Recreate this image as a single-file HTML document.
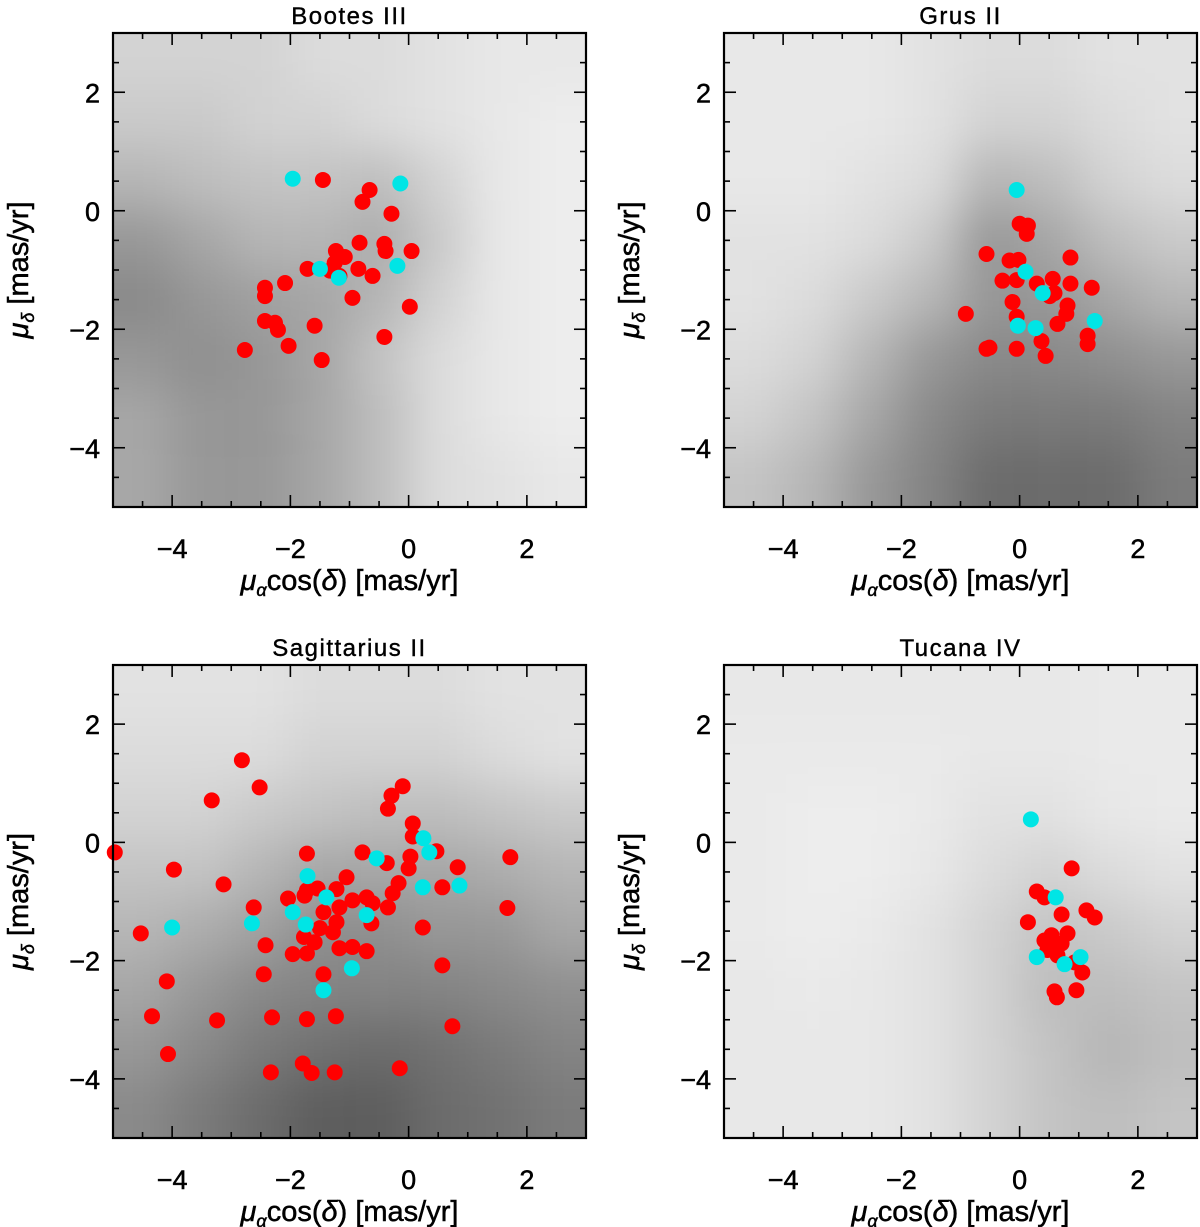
<!DOCTYPE html>
<html><head><meta charset="utf-8">
<style>
html,body{margin:0;padding:0;background:#fff;}
svg{display:block;font-family:"Liberation Sans",sans-serif;}
</style></head>
<body>
<svg id="fig" width="1200" height="1227" viewBox="0 0 1200 1227" xmlns="http://www.w3.org/2000/svg">
<defs>
<filter id="blur" x="-20%" y="-20%" width="140%" height="140%"><feGaussianBlur stdDeviation="22"/></filter>
</defs>
</svg>
<script>
// ---- Data ----
const panelTitles = ["Bootes III","Grus II","Sagittarius II","Tucana IV"];
const xTickLabels = [-4,-2,0,2];
const yTickLabels = [2,0,-2,-4];

// background field-star density (rows: mu_delta 3..-5, cols: mu_alpha -5..3)
const densBootes = [
[0.15,0.15,0.15,0.12,0.12,0.10,0.08,0.08],
[0.18,0.18,0.15,0.15,0.12,0.10,0.08,0.06],
[0.25,0.22,0.20,0.20,0.22,0.15,0.08,0.06],
[0.35,0.30,0.25,0.25,0.28,0.18,0.08,0.06],
[0.40,0.35,0.32,0.30,0.25,0.15,0.08,0.06],
[0.35,0.38,0.35,0.30,0.20,0.12,0.08,0.06],
[0.30,0.35,0.35,0.30,0.22,0.12,0.08,0.06],
[0.30,0.35,0.35,0.30,0.22,0.12,0.10,0.08]];
const densGrus = [
[0.08,0.08,0.08,0.10,0.12,0.12,0.10,0.10],
[0.08,0.08,0.08,0.10,0.15,0.15,0.12,0.10],
[0.08,0.08,0.10,0.12,0.25,0.22,0.15,0.12],
[0.10,0.10,0.12,0.18,0.35,0.30,0.22,0.18],
[0.10,0.12,0.18,0.25,0.35,0.35,0.30,0.25],
[0.12,0.15,0.25,0.35,0.40,0.40,0.38,0.35],
[0.15,0.20,0.30,0.40,0.45,0.45,0.45,0.42],
[0.20,0.25,0.35,0.42,0.50,0.50,0.50,0.45]];
const densSgr = [
[0.10,0.10,0.10,0.12,0.12,0.12,0.10,0.10],
[0.12,0.12,0.12,0.15,0.15,0.15,0.12,0.10],
[0.15,0.15,0.18,0.20,0.22,0.22,0.20,0.18],
[0.20,0.20,0.25,0.30,0.30,0.30,0.28,0.25],
[0.25,0.28,0.32,0.38,0.38,0.35,0.35,0.30],
[0.30,0.35,0.40,0.42,0.42,0.42,0.40,0.38],
[0.35,0.40,0.45,0.48,0.50,0.48,0.45,0.42],
[0.40,0.45,0.50,0.55,0.55,0.50,0.48,0.45]];
const densTuc = [
[0.08,0.08,0.08,0.08,0.08,0.08,0.07,0.07],
[0.07,0.07,0.07,0.07,0.08,0.08,0.07,0.07],
[0.07,0.06,0.06,0.07,0.10,0.10,0.08,0.07],
[0.07,0.06,0.06,0.08,0.12,0.15,0.12,0.10],
[0.07,0.06,0.07,0.10,0.15,0.20,0.18,0.15],
[0.08,0.07,0.08,0.10,0.15,0.22,0.22,0.20],
[0.08,0.08,0.08,0.10,0.15,0.20,0.25,0.22],
[0.08,0.08,0.08,0.10,0.15,0.20,0.22,0.20]];

// members: [pmra, pmdec]
const redBootes = [[-1.45,0.52],[-0.66,0.35],[-0.78,0.15],[-0.29,-0.05],[-0.83,-0.54],[-0.41,-0.56],[-0.39,-0.68],[0.05,-0.68],[-1.23,-0.68],[-1.08,-0.78],[-1.25,-0.88],[-1.71,-0.98],[-0.85,-0.98],[-0.61,-1.10],[-1.33,-1.01],[-1.17,-1.10],[-2.09,-1.22],[-2.43,-1.30],[-2.43,-1.44],[-0.95,-1.47],[0.02,-1.62],[-2.43,-1.86],[-2.26,-1.89],[-2.21,-2.01],[-1.59,-1.94],[-0.41,-2.13],[-2.03,-2.28],[-2.77,-2.35],[-1.47,-2.52]];
const cyanBootes = [[-1.96,0.54],[-0.14,0.46],[-1.50,-0.98],[-1.18,-1.13],[-0.19,-0.93]];
const redGrus = [[0.00,-0.22],[0.14,-0.25],[0.12,-0.39],[-0.56,-0.73],[0.86,-0.79],[-0.17,-0.84],[-0.02,-0.83],[-0.29,-1.18],[-0.05,-1.17],[0.29,-1.23],[0.56,-1.15],[0.86,-1.23],[1.22,-1.30],[0.51,-1.44],[0.59,-1.39],[-0.12,-1.54],[0.81,-1.60],[0.79,-1.74],[-0.91,-1.74],[-0.05,-1.79],[0.64,-1.91],[1.15,-2.11],[1.15,-2.25],[0.37,-2.20],[-0.51,-2.31],[-0.56,-2.33],[-0.05,-2.33],[0.44,-2.45]];
const cyanGrus = [[-0.05,0.35],[0.10,-1.03],[0.39,-1.39],[-0.03,-1.94],[0.27,-1.98],[1.27,-1.86]];
const redSgr = [[-2.82,1.39],[-2.52,0.93],[-3.33,0.71],[-0.10,0.95],[-0.29,0.79],[-0.35,0.57],[-4.97,-0.17],[-3.97,-0.46],[-3.13,-0.71],[-1.72,-0.19],[-0.78,-0.17],[0.07,0.32],[0.07,0.10],[0.47,-0.15],[-0.37,-0.35],[0.03,-0.24],[0.00,-0.44],[0.83,-0.42],[0.57,-0.76],[-0.17,-0.69],[-0.27,-0.86],[-0.35,-1.10],[-1.05,-0.59],[-1.22,-0.79],[-1.54,-0.78],[-1.72,-0.81],[-2.04,-0.95],[-1.76,-0.90],[-1.17,-1.10],[-0.95,-0.98],[-0.71,-0.93],[-0.61,-1.03],[-1.44,-1.18],[-1.22,-1.35],[-1.50,-1.45],[-1.28,-1.52],[-0.63,-1.37],[-2.62,-1.10],[0.24,-1.44],[-4.53,-1.54],[-1.77,-1.60],[-1.59,-1.69],[-2.42,-1.74],[-1.96,-1.89],[-1.72,-1.88],[-1.17,-1.79],[-0.95,-1.77],[-0.71,-1.84],[0.57,-2.08],[-2.45,-2.23],[-1.44,-2.23],[-4.09,-2.35],[-4.34,-2.94],[-3.24,-3.01],[-2.31,-2.96],[-1.72,-2.99],[-1.23,-2.94],[0.74,-3.11],[-4.07,-3.58],[-1.79,-3.74],[-1.64,-3.90],[-2.33,-3.89],[-1.25,-3.89],[-0.15,-3.82],[1.72,-0.25],[1.67,-1.11]];
const cyanSgr = [[0.25,0.07],[0.35,-0.17],[-0.54,-0.27],[-1.71,-0.57],[-1.39,-0.93],[-1.96,-1.18],[-1.74,-1.39],[-2.65,-1.37],[-4.00,-1.44],[-0.71,-1.23],[0.24,-0.76],[0.86,-0.73],[-0.96,-2.13],[-1.44,-2.50]];
const redTuc = [[0.88,-0.44],[0.29,-0.83],[0.42,-0.93],[1.13,-1.15],[1.27,-1.27],[0.71,-1.22],[0.14,-1.35],[0.54,-1.57],[0.81,-1.54],[0.71,-1.71],[0.47,-1.82],[0.59,-1.77],[0.93,-2.03],[1.06,-2.20],[0.59,-2.52],[0.63,-2.62],[0.96,-2.50],[0.42,-1.66],[0.64,-1.91]];
const cyanTuc = [[0.19,0.39],[0.61,-0.93],[0.29,-1.94],[0.76,-2.06],[1.03,-1.94]];

const densities = [densBootes,densGrus,densSgr,densTuc];
const reds = [redBootes,redGrus,redSgr,redTuc];
const cyans = [cyanBootes,cyanGrus,cyanSgr,cyanTuc];

// ---- Drawing ----
const NS = "http://www.w3.org/2000/svg";
const svg = document.getElementById('fig');
function mk(tag, attrs, parent){
  const e = document.createElementNS(NS, tag);
  for (const k in attrs) e.setAttribute(k, attrs[k]);
  (parent||svg).appendChild(e);
  return e;
}
const XMIN=-5, XMAX=3, YMIN=-5, YMAX=3;
const DENS_GAIN = 1.15;
const boxes = [
  {x0:113, y0:33, w:473, h:474},
  {x0:724, y0:33, w:473, h:474},
  {x0:113, y0:665, w:473, h:473},
  {x0:724, y0:665, w:473, h:473}
];
const slug = ["bootes-iii","grus-ii","sagittarius-ii","tucana-iv"];

boxes.forEach((b, p) => {
  const sx = v => b.x0 + (v - XMIN) / (XMAX - XMIN) * b.w;
  const sy = v => b.y0 + (YMAX - v) / (YMAX - YMIN) * b.h;
  const g = mk('g', {});
  
  

  const cp = mk('clipPath', {id: 'clip' + p}, svg.querySelector('defs'));
  mk('rect', {x: b.x0, y: b.y0, width: b.w, height: b.h}, cp);

  const bgWrap = mk('g', {'clip-path': 'url(#clip' + p + ')'}, g);
  
  
  const bg = mk('g', {filter: 'url(#blur)'}, bgWrap);
  const dens = densities[p];
  const nr = dens.length, nc = dens[0].length;
  for (let r = 0; r < nr; r++) for (let c = 0; c < nc; c++) {
    let xa = sx(XMIN + c * (XMAX - XMIN) / nc), xb = sx(XMIN + (c + 1) * (XMAX - XMIN) / nc);
    let ya = sy(YMAX - r * (YMAX - YMIN) / nr), yb = sy(YMAX - (r + 1) * (YMAX - YMIN) / nr);
    if (c === 0) xa -= 60; if (c === nc - 1) xb += 60;
    if (r === 0) ya -= 60; if (r === nr - 1) yb += 60;
    const cell = mk('rect', {x: xa, y: ya, width: xb - xa + 0.5, height: yb - ya + 0.5, fill: '#000', 'fill-opacity': Math.min(1, dens[r][c] * DENS_GAIN)}, bg);
    
    
  }

  reds[p].forEach(d => {
    const c = mk('circle', {cx: sx(d[0]), cy: sy(d[1]), r: 8, fill: '#ff0000'}, g);
    
    
  });
  cyans[p].forEach(d => {
    const c = mk('circle', {cx: sx(d[0]), cy: sy(d[1]), r: 8, fill: '#00e5e5'}, g);
    
    
  });

  const fr = mk('rect', {x: b.x0, y: b.y0, width: b.w, height: b.h, fill: 'none', stroke: '#000', 'stroke-width': 2.2}, g);
  
  

  const tg = mk('g', {stroke: '#000', 'stroke-width': 1.6}, g);
  
  
  for (let v = XMIN; v <= XMAX + 1e-9; v += 0.5) {
    const major = Math.abs(v % 2) < 1e-9;
    const L = major ? 12 : 6, x = sx(v);
    mk('line', {x1: x, y1: b.y0 + b.h, x2: x, y2: b.y0 + b.h - L}, tg);
    mk('line', {x1: x, y1: b.y0, x2: x, y2: b.y0 + L}, tg);
  }
  for (let v = YMIN; v <= YMAX + 1e-9; v += 0.5) {
    const major = Math.abs(v % 2) < 1e-9;
    const L = major ? 12 : 6, y = sy(v);
    mk('line', {x1: b.x0, y1: y, x2: b.x0 + L, y2: y}, tg);
    mk('line', {x1: b.x0 + b.w, y1: y, x2: b.x0 + b.w - L, y2: y}, tg);
  }

  xTickLabels.forEach(v => {
    const t = mk('text', {x: sx(v), y: b.y0 + b.h + 51, 'text-anchor': 'middle', 'font-size': 27, stroke: '#000', 'stroke-width': 0.5}, g);
    t.textContent = v < 0 ? '\u2212' + Math.abs(v) : String(v);
    
    
  });
  yTickLabels.forEach(v => {
    const t = mk('text', {x: b.x0 - 13, y: sy(v) + 10, 'text-anchor': 'end', 'font-size': 27, stroke: '#000', 'stroke-width': 0.5}, g);
    t.textContent = v < 0 ? '\u2212' + Math.abs(v) : String(v);
    
    
  });

  const tt = mk('text', {x: b.x0 + b.w / 2, y: b.y0 - 9, 'text-anchor': 'middle', 'font-size': 24, 'letter-spacing': 1.5, stroke: '#000', 'stroke-width': 0.4}, g);
  tt.textContent = panelTitles[p];
  
  

  const xt = mk('text', {x: b.x0 + b.w / 2, y: b.y0 + b.h + 83, 'text-anchor': 'middle', 'font-size': 29, stroke: '#000', 'stroke-width': 0.5}, g);
  xt.innerHTML = '<tspan font-style="italic">\u03bc</tspan><tspan font-style="italic" font-size="18" dy="6">\u03b1</tspan><tspan dy="-6">cos(</tspan><tspan font-style="italic">\u03b4</tspan><tspan>) [mas/yr]</tspan>';
  
  

  const cy = b.y0 + b.h / 2;
  const yt = mk('text', {x: b.x0 - 85, y: cy, 'text-anchor': 'middle', 'font-size': 29, stroke: '#000', 'stroke-width': 0.5, transform: 'rotate(-90 ' + (b.x0 - 85) + ' ' + cy + ')'}, g);
  yt.innerHTML = '<tspan font-style="italic">\u03bc</tspan><tspan font-style="italic" font-size="18" dy="6">\u03b4</tspan><tspan dy="-6"> [mas/yr]</tspan>';
  
  
});
</script>
</body></html>
